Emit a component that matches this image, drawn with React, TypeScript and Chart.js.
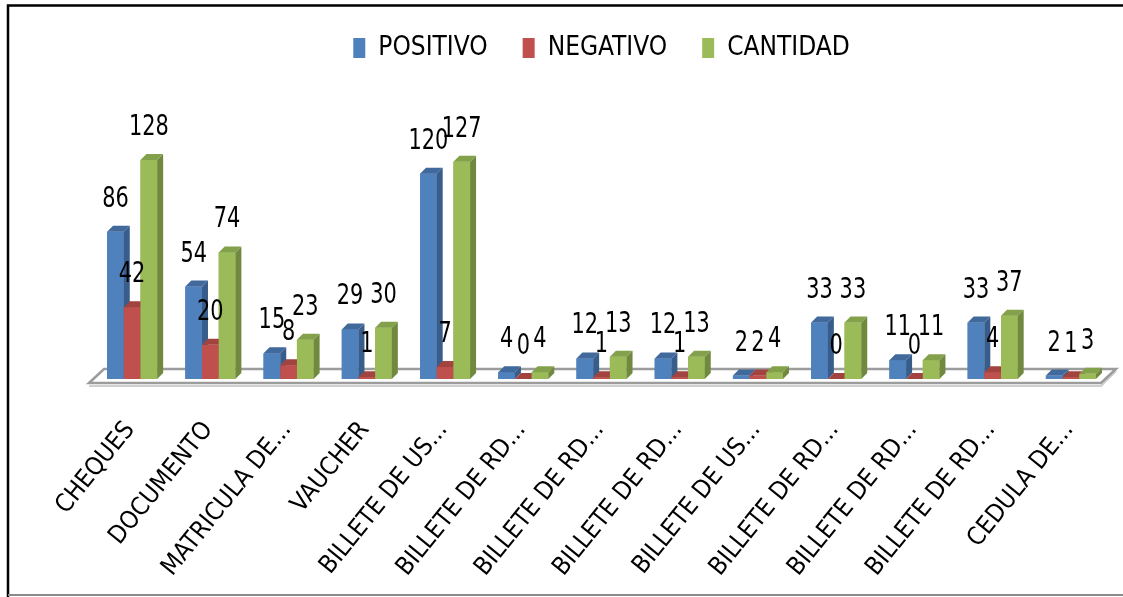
import { useEffect, useRef } from "react";
import { Chart, registerables } from "chart.js";

Chart.register(...registerables);

const categories = [
  "CHEQUES",
  "DOCUMENTO",
  "MATRICULA DE...",
  "VAUCHER",
  "BILLETE DE US...",
  "BILLETE DE RD...",
  "BILLETE DE RD...",
  "BILLETE DE RD...",
  "BILLETE DE US...",
  "BILLETE DE RD...",
  "BILLETE DE RD...",
  "BILLETE DE RD...",
  "CEDULA DE...",
];
const positivo = [86, 54, 15, 29, 120, 4, 12, 12, 2, 33, 11, 33, 2];
const negativo = [42, 20, 8, 1, 7, 0, 1, 1, 2, 0, 0, 4, 1];
const cantidad = [128, 74, 23, 30, 127, 4, 13, 13, 4, 33, 11, 37, 3];
const seriesNames = ["POSITIVO", "NEGATIVO", "CANTIDAD"];

const FRONT = ["#4F81BD", "#C0504D", "#9BBB59"];
const SIDE = ["#385D8A", "#8C3836", "#71893F"];
const TOP = ["#41699C", "#A24340", "#82A14A"];
const FONT = "'DejaVu Sans Condensed', 'DejaVu Sans', sans-serif";
const DEPTH = 6;

const bar3d = {
  id: "bar3d",
  beforeDatasetsDraw(chart: any) {
    const { ctx, chartArea } = chart;
    const l = chartArea.left, r = chartArea.right, b = chartArea.bottom;
    ctx.save();
    ctx.beginPath();
    ctx.moveTo(l - 4, b + 7);
    ctx.lineTo(r - 9, b + 7);
    ctx.lineTo(r + 6, b - 8);
    ctx.strokeStyle = "#CFCFCF";
    ctx.lineWidth = 2;
    ctx.stroke();
    ctx.beginPath();
    ctx.moveTo(l - 4, b + 4);
    ctx.lineTo(l + 11, b - 10);
    ctx.lineTo(r + 6, b - 10);
    ctx.lineTo(r - 9, b + 4);
    ctx.closePath();
    ctx.fillStyle = "#FFFFFF";
    ctx.fill();
    ctx.strokeStyle = "#9C9C9C";
    ctx.lineWidth = 2.5;
    ctx.stroke();
    ctx.restore();
  },
  afterDatasetsDraw(chart: any) {
    const { ctx } = chart;
    const metas = [0, 1, 2].map((i) => chart.getDatasetMeta(i));
    ctx.save();
    for (let j = 0; j < categories.length; j++) {
      for (let i = 0; i < 3; i++) {
        const el = metas[i].data[j];
        const { x, y, base, width } = el.getProps(["x", "y", "base", "width"], true);
        const l = x - width / 2;
        const r = x + width / 2;
        ctx.fillStyle = FRONT[i];
        ctx.fillRect(l, y, width, base - y);
        ctx.beginPath();
        ctx.moveTo(r, y);
        ctx.lineTo(r + DEPTH, y - DEPTH);
        ctx.lineTo(r + DEPTH, base - DEPTH);
        ctx.lineTo(r, base);
        ctx.closePath();
        ctx.fillStyle = SIDE[i];
        ctx.fill();
        ctx.beginPath();
        ctx.moveTo(l, y);
        ctx.lineTo(l + DEPTH, y - DEPTH);
        ctx.lineTo(r + DEPTH, y - DEPTH);
        ctx.lineTo(r, y);
        ctx.closePath();
        ctx.fillStyle = TOP[i];
        ctx.fill();
      }
    }
    ctx.font = `29px ${FONT}`;
    ctx.fillStyle = "#000";
    ctx.textAlign = "center";
    ctx.textBaseline = "alphabetic";
    const sx = 0.8;
    for (let i = 0; i < 3; i++) {
      const ds = chart.data.datasets[i];
      metas[i].data.forEach((el: any, j: number) => {
        const { x, y } = el.getProps(["x", "y"], true);
        ctx.save();
        ctx.translate(x, y - 25);
        ctx.scale(sx, 1);
        ctx.fillText(String(ds.data[j]), 0, 0);
        ctx.restore();
      });
    }
    ctx.restore();
  },
  afterDraw(chart: any) {
    const { ctx, width, height } = chart;
    ctx.save();
    ctx.strokeStyle = "#000";
    ctx.lineWidth = 2.5;
    ctx.beginPath();
    ctx.moveTo(8, height);
    ctx.lineTo(8, 5.5);
    ctx.lineTo(width, 5.5);
    ctx.stroke();
    ctx.strokeStyle = "#8A8A8A";
    ctx.lineWidth = 2;
    ctx.beginPath();
    ctx.moveTo(8, height - 2);
    ctx.lineTo(width, height - 2);
    ctx.stroke();
    ctx.restore();
  },
};

export default function App() {
  const ref = useRef<HTMLCanvasElement | null>(null);
  useEffect(() => {
    if (!ref.current) return;
    const chart = new Chart(ref.current, {
      type: "bar",
      data: {
        labels: categories,
        datasets: [positivo, negativo, cantidad].map((d, i) => ({
          label: seriesNames[i],
          data: d,
          backgroundColor: FRONT[i],
          borderWidth: 0,
          barPercentage: 1,
          categoryPercentage: 0.64,
        })),
      },
      options: {
        responsive: false,
        animation: false,
        layout: { padding: { top: 0, left: 93, right: 13, bottom: 0 } },
        plugins: {
          tooltip: { enabled: false },
          legend: {
            position: "top",
            labels: {
              boxWidth: 12,
              boxHeight: 20,
              padding: 35,
              color: "#000",
              font: { family: FONT, size: 26 },
            },
          },
        },
        scales: {
          y: { display: false, min: 0, max: 180 },
          x: {
            grid: { display: false },
            border: { display: false },
            ticks: {
              autoSkip: false,
              minRotation: 51,
              maxRotation: 51,
              labelOffset: -2,
              padding: 29,
              color: "#000",
              font: { family: FONT, size: 25 },
            },
            afterFit: (scale: any) => {
              scale.height = 218;
              scale.paddingLeft = 0;
              scale.paddingRight = 0;
            },
          },
        },
      },
      plugins: [bar3d],
    });
    return () => chart.destroy();
  }, []);
  return (
    <div style={{ position: "absolute", left: 0, top: 0, width: 1123, height: 597, background: "#fff" }}>
      <canvas ref={ref} width={1123} height={597} />
    </div>
  );
}
